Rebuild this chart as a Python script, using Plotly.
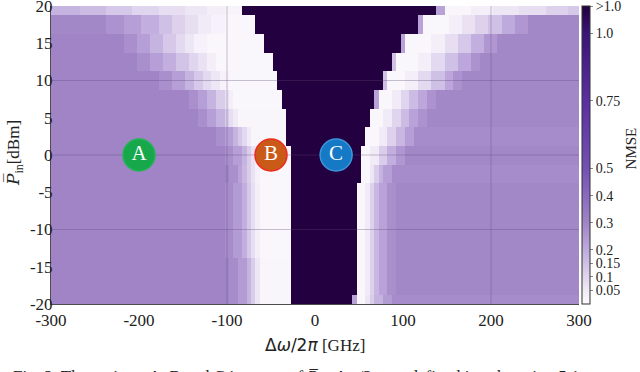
import numpy as np
import plotly.graph_objects as go

# ---------------- data ----------------
P_IN = [20, 17.5, 15, 12.5, 10, 7.5, 5, 2.5, 0, -2.5, -5, -7.5, -10, -12.5, -15, -17.5, -20]
X_STEP_GHZ = 5
X_MIN, X_MAX = -300, 300
Y_MIN, Y_MAX = -20, 20
NMSE_OVER = 1.1  # cells with NMSE > 1.0 (shown as ">1.0")

# detuning range (first/last cell centre) where NMSE > 1 for each power row
DARK_FROM = [-80, -65, -55, -45, -40, -35, -30, -30, -25, -25, -25, -25, -25, -25, -25, -25, -25]
DARK_TO = [135, 115, 95, 85, 75, 65, 60, 55, 50, 50, 45, 45, 45, 45, 45, 45, 40]

# NMSE steps left of the dark region: [first cell centre, NMSE]
LEFT_FADE = [
    [[-300, 0.18], [-265, 0.16], [-235, 0.13], [-205, 0.10], [-175, 0.08], [-145, 0.06], [-120, 0.04], [-100, 0.025]],
    [[-300, 0.29], [-235, 0.26], [-215, 0.23], [-195, 0.19], [-175, 0.15], [-160, 0.11], [-145, 0.08], [-130, 0.05], [-115, 0.03], [-100, 0.015]],
    [[-300, 0.30], [-215, 0.27], [-200, 0.23], [-185, 0.18], [-170, 0.13], [-155, 0.09], [-145, 0.06], [-135, 0.03], [-120, 0.015]],
    [[-300, 0.30], [-200, 0.27], [-185, 0.23], [-170, 0.19], [-155, 0.14], [-140, 0.10], [-130, 0.07], [-120, 0.04], [-110, 0.015]],
    [[-300, 0.30], [-175, 0.27], [-160, 0.23], [-145, 0.18], [-135, 0.13], [-125, 0.09], [-115, 0.06], [-105, 0.03], [-95, 0.015]],
    [[-300, 0.30], [-140, 0.27], [-130, 0.23], [-120, 0.18], [-110, 0.12], [-100, 0.07], [-95, 0.04], [-90, 0.015]],
    [[-300, 0.30], [-130, 0.27], [-120, 0.23], [-110, 0.18], [-100, 0.12], [-95, 0.08], [-90, 0.05], [-85, 0.02]],
    [[-300, 0.30], [-110, 0.27], [-100, 0.23], [-90, 0.18], [-85, 0.13], [-80, 0.09], [-75, 0.05], [-70, 0.02]],
    [[-300, 0.30], [-100, 0.27], [-90, 0.23], [-80, 0.18], [-75, 0.12], [-70, 0.07], [-65, 0.04], [-60, 0.015]],
    [[-300, 0.30], [-95, 0.27], [-85, 0.22], [-80, 0.17], [-75, 0.12], [-70, 0.07], [-65, 0.035], [-60, 0.015]],
    [[-300, 0.30], [-100, 0.28], [-90, 0.24], [-80, 0.19], [-75, 0.13], [-70, 0.08], [-65, 0.04], [-60, 0.015]],
    [[-300, 0.30], [-100, 0.28], [-90, 0.24], [-80, 0.19], [-75, 0.13], [-70, 0.08], [-65, 0.04], [-60, 0.015]],
    [[-300, 0.30], [-100, 0.28], [-90, 0.24], [-80, 0.19], [-75, 0.13], [-70, 0.08], [-65, 0.04], [-60, 0.015]],
    [[-300, 0.30], [-100, 0.28], [-90, 0.24], [-80, 0.19], [-75, 0.13], [-70, 0.08], [-65, 0.04], [-60, 0.015]],
    [[-300, 0.30], [-95, 0.28], [-85, 0.24], [-75, 0.18], [-70, 0.12], [-65, 0.06], [-60, 0.02]],
    [[-300, 0.30], [-95, 0.28], [-85, 0.24], [-75, 0.18], [-70, 0.12], [-65, 0.06], [-60, 0.02]],
    [[-300, 0.30], [-95, 0.28], [-85, 0.24], [-75, 0.18], [-70, 0.12], [-65, 0.06], [-60, 0.02]],
]

# NMSE steps right of the dark region: [first cell centre, NMSE]
RIGHT_FADE = [
    [[140, 0.22], [150, 0.02], [180, 0.04], [205, 0.06], [235, 0.08], [265, 0.11], [290, 0.13]],
    [[120, 0.22], [125, 0.015], [155, 0.04], [170, 0.07], [185, 0.11], [200, 0.15], [215, 0.20], [230, 0.25], [245, 0.29]],
    [[100, 0.22], [105, 0.015], [135, 0.04], [150, 0.08], [165, 0.13], [180, 0.19], [195, 0.25], [210, 0.29]],
    [[90, 0.15], [95, 0.015], [120, 0.04], [135, 0.09], [150, 0.15], [165, 0.21], [180, 0.26], [190, 0.29]],
    [[80, 0.15], [85, 0.015], [105, 0.04], [120, 0.09], [135, 0.15], [150, 0.21], [160, 0.26], [170, 0.29]],
    [[70, 0.22], [75, 0.015], [90, 0.05], [100, 0.10], [110, 0.16], [120, 0.21], [130, 0.26], [140, 0.29]],
    [[65, 0.015], [80, 0.05], [90, 0.10], [100, 0.16], [110, 0.22], [120, 0.26], [130, 0.29]],
    [[60, 0.015], [75, 0.05], [85, 0.11], [95, 0.17], [105, 0.23], [115, 0.28]],
    [[55, 0.015], [65, 0.05], [75, 0.12], [85, 0.19], [95, 0.25], [105, 0.29]],
    [[55, 0.015], [65, 0.06], [70, 0.12], [75, 0.18], [80, 0.23], [90, 0.28]],
    [[50, 0.015], [60, 0.05], [65, 0.11], [70, 0.17], [75, 0.22], [85, 0.27], [95, 0.29]],
    [[50, 0.015], [60, 0.05], [65, 0.11], [70, 0.17], [75, 0.22], [85, 0.27], [95, 0.29]],
    [[50, 0.015], [60, 0.05], [65, 0.11], [70, 0.17], [75, 0.22], [85, 0.27], [95, 0.29]],
    [[50, 0.015], [60, 0.05], [65, 0.11], [70, 0.17], [75, 0.22], [85, 0.27], [95, 0.29]],
    [[50, 0.015], [60, 0.05], [65, 0.11], [70, 0.17], [75, 0.22], [85, 0.27], [95, 0.29]],
    [[50, 0.015], [60, 0.05], [65, 0.11], [70, 0.17], [75, 0.22], [85, 0.27], [95, 0.29]],
    [[45, 0.22], [50, 0.015], [60, 0.06], [65, 0.12], [70, 0.18], [80, 0.24], [90, 0.28]],
]

X_TICKS = [-300, -200, -100, 0, 100, 200, 300]
X_TICKTEXT = ["-300", "-200", "-100", "0", "100", "200", "300"]
Y_TICKS = [-20, -15, -10, -5, 0, 5, 10, 15, 20]
Y_TICKTEXT = ["-20", "-15", "-10", "-5", "0", "5", "10", "15", "20"]
CB_TICKVALS = [0.05, 0.1, 0.15, 0.2, 0.3, 0.4, 0.5, 0.75, 1.0, 1.1]
CB_TICKTEXT = ["0.05", "0.1", "0.15", "0.2", "0.3", "0.4", "0.5", "0.75", "1.0", ">1.0"]
GRID_X = [-100, 200]
GRID_Y = [-10, 0, 10]

REGIME_LABELS = ["A", "B", "C"]
REGIME_X = [-200, -50, 24]
REGIME_Y = [0, 0, 0]
REGIME_FILL = ["#17a84b", "#c95a18", "#1679c6"]
REGIME_EDGE = ["#22b455", "#ee2a1c", "#3d95dc"]

# ---------------- build the grid ----------------
X_CELLS = np.arange(X_MIN, X_MAX + X_STEP_GHZ, X_STEP_GHZ)


def step_value(steps, x):
    v = steps[0][1]
    for xs, val in steps:
        if x >= xs:
            v = val
    return v


Z = []
for i, p in enumerate(P_IN):
    row = []
    for x in X_CELLS:
        if DARK_FROM[i] <= x <= DARK_TO[i]:
            row.append(NMSE_OVER)
        elif x < DARK_FROM[i]:
            row.append(step_value(LEFT_FADE[i], x))
        else:
            row.append(step_value(RIGHT_FADE[i], x))
    Z.append(row)

COLORSCALE = [
    [0.0, "#fdfbfe"],
    [0.045, "#f1ebf7"],
    [0.091, "#e0d5ee"],
    [0.136, "#cfc0e5"],
    [0.182, "#bfaadd"],
    [0.273, "#a084c6"],
    [0.364, "#8a69bf"],
    [0.455, "#7550b3"],
    [0.682, "#5a30a2"],
    [0.909, "#3a1478"],
    [1.0, "#23003f"],
]

SERIF = "Liberation Serif"
TXT = "#222222"

fig = go.Figure()
fig.add_trace(go.Heatmap(
    x=X_CELLS, y=P_IN, z=Z,
    zmin=0, zmax=NMSE_OVER,
    colorscale=COLORSCALE,
    showscale=True,
    hoverinfo="skip",
    colorbar=dict(
        x=1.0066, xanchor="left", xpad=0,
        y=0.5, yanchor="middle", ypad=0,
        len=1.0, lenmode="fraction",
        thickness=8, thicknessmode="pixels",
        outlinewidth=1, outlinecolor="#333333",
        tickmode="array", tickvals=CB_TICKVALS, ticktext=CB_TICKTEXT,
        ticks="outside", ticklen=3, tickcolor="#888888",
        ticklabeloverflow="allow",
        tickfont=dict(family=SERIF, size=14, color=TXT),
    ),
))

# faint grid lines (the ones visible in the reference)
for gx in GRID_X:
    fig.add_trace(go.Scatter(x=[gx, gx], y=[Y_MIN, Y_MAX], mode="lines",
                             line=dict(color="rgba(90,70,115,0.33)", width=1),
                             hoverinfo="skip", showlegend=False))
for gy in GRID_Y:
    fig.add_trace(go.Scatter(x=[X_MIN, X_MAX], y=[gy, gy], mode="lines",
                             line=dict(color="rgba(90,70,115,0.33)", width=1),
                             hoverinfo="skip", showlegend=False))

fig.add_trace(go.Scatter(
    x=REGIME_X, y=REGIME_Y, mode="markers+text",
    text=REGIME_LABELS, textposition="middle center",
    textfont=dict(family=SERIF, size=21, color="white"),
    marker=dict(size=32, color=REGIME_FILL, line=dict(color=REGIME_EDGE, width=1.5)),
    hoverinfo="skip", showlegend=False,
))

fig.update_layout(
    width=640, height=372,
    margin=dict(l=51, r=61, t=6, b=68, autoexpand=False),
    paper_bgcolor="white", plot_bgcolor="white",
    showlegend=False,
    font=dict(family=SERIF, color=TXT),
    xaxis=dict(range=[X_MIN, X_MAX], tickmode="array", tickvals=X_TICKS, ticktext=X_TICKTEXT,
               ticks="", ticklen=0, ticklabelstandoff=1, showgrid=False, zeroline=False,
               showline=True, linecolor="#4d4d4d", linewidth=1,
               ticklabeloverflow="allow",
               tickfont=dict(family=SERIF, size=17, color=TXT)),
    yaxis=dict(range=[Y_MIN, Y_MAX], tickmode="array", tickvals=Y_TICKS, ticktext=Y_TICKTEXT,
               ticks="", ticklen=0, ticklabelstandoff=-6, showgrid=False, zeroline=False,
               showline=True, linecolor="#4d4d4d", linewidth=1,
               ticklabeloverflow="allow",
               tickfont=dict(family=SERIF, size=17, color=TXT)),
    annotations=[
        dict(xref="paper", yref="paper", x=0.5, y=-0.138, xanchor="center", yanchor="middle",
             showarrow=False,
             text='<span style="font-family:DejaVu Sans">Δ<i>ω</i>/2<i>π</i></span> [GHz]',
             font=dict(family=SERIF, size=17, color=TXT)),
        dict(xref="paper", yref="paper", x=-0.068, y=0.507, xanchor="center", yanchor="middle",
             showarrow=False, textangle=-90,
             text='<span style="font-family:DejaVu Serif"><i>P\u0305</i></span><sub>in</sub>[dBm]',
             font=dict(family=SERIF, size=17, color=TXT)),
        dict(xref="paper", yref="paper", x=1.099, y=0.523, xanchor="center", yanchor="middle",
             showarrow=False, textangle=-90, text="NMSE",
             font=dict(family=SERIF, size=15, color=TXT)),
        dict(xref="paper", yref="paper", x=-0.075, y=-0.205, xanchor="left", yanchor="top",
             showarrow=False,
             text="Fig. 2. The regimes A, B and C in terms of <i>P\u0305</i><sub>in</sub>, Δ<i>ω</i>/2<i>π</i> are defined in subsection 5.1",
             font=dict(family=SERIF, size=17, color=TXT)),
    ],
)

fig.write_html("out.html", config={"displayModeBar": False},
               post_script="document.body.style.margin='0px';document.body.style.overflow='hidden';")
